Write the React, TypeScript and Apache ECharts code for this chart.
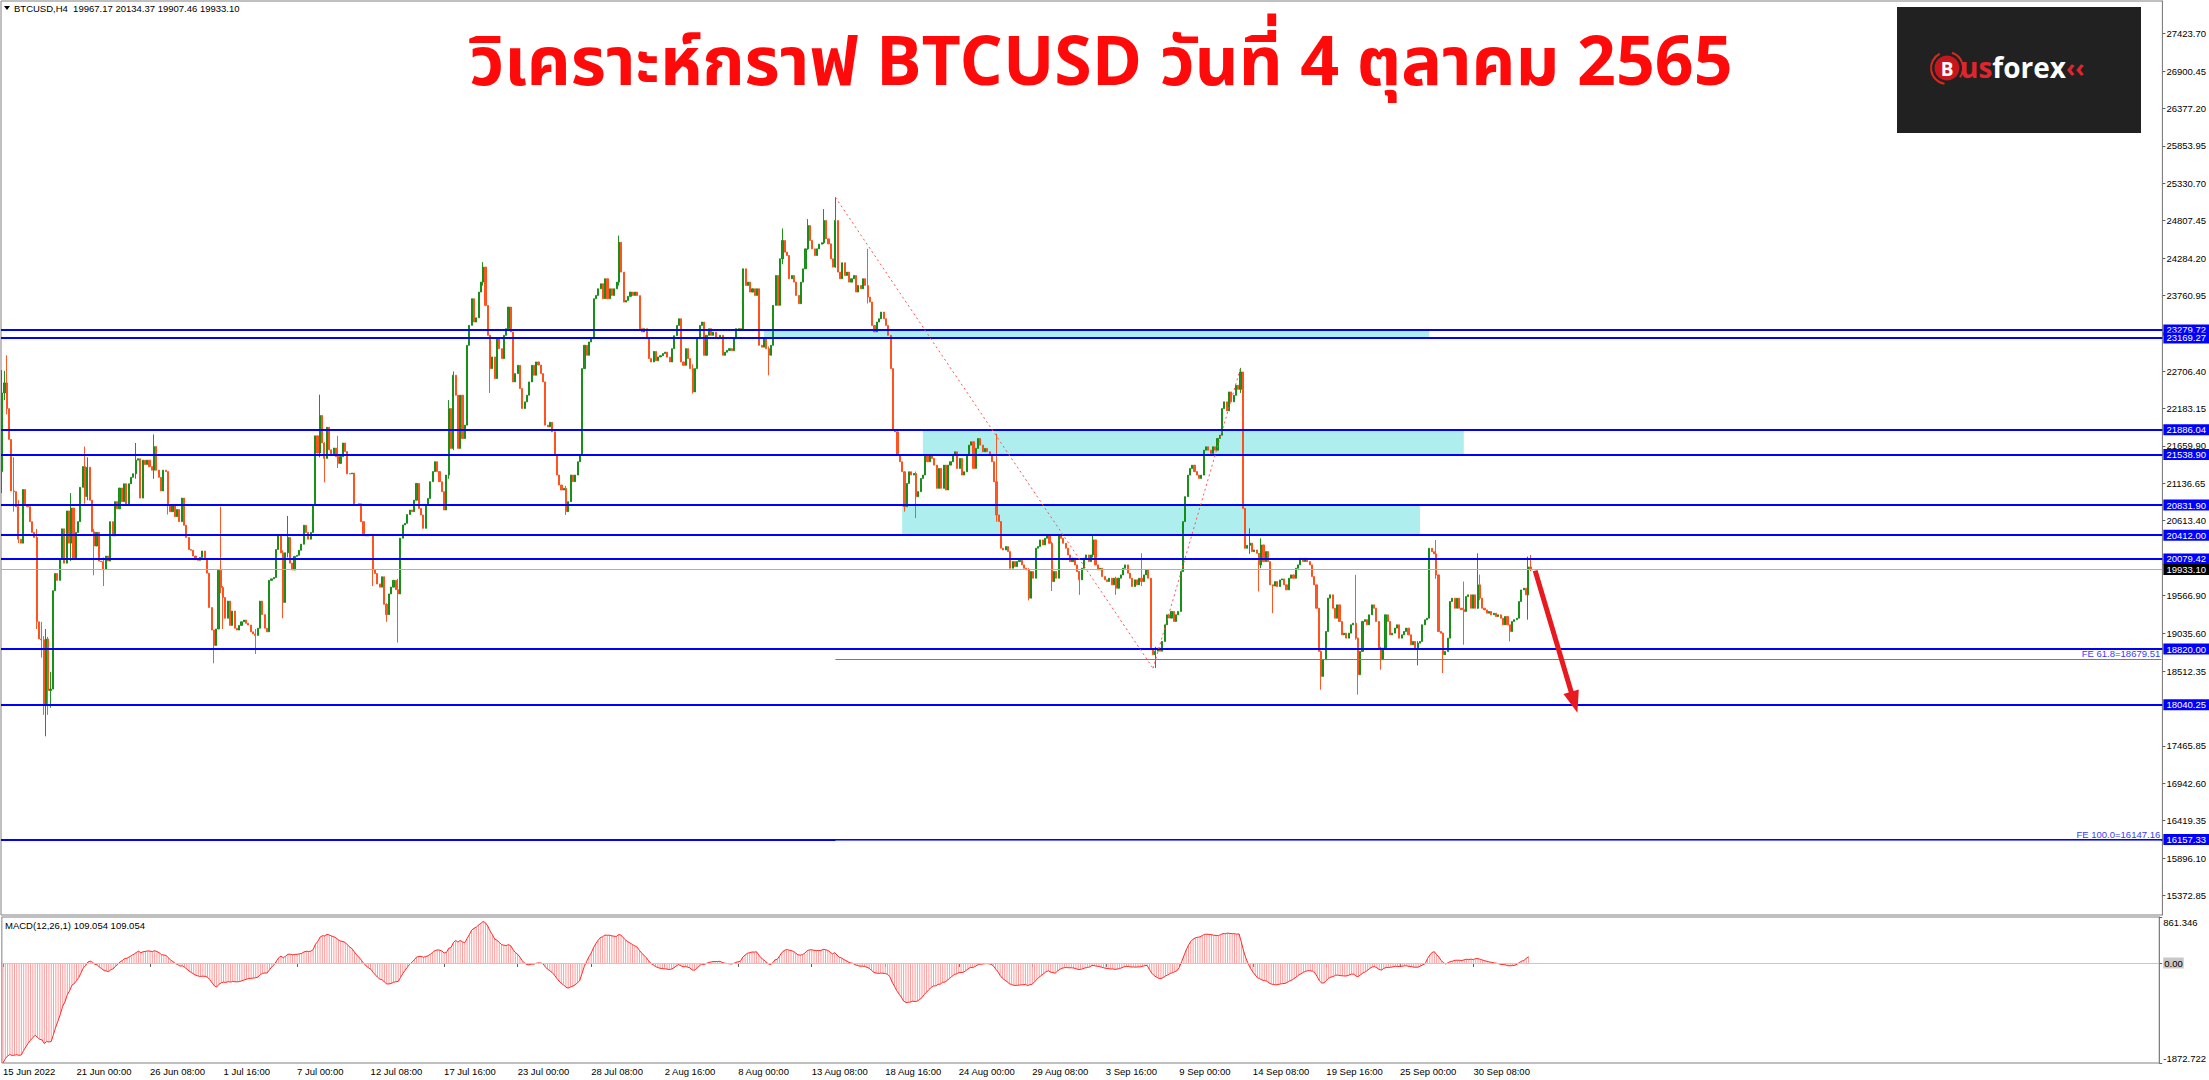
import React, { useEffect, useRef } from 'react';
import * as echarts from 'echarts';

// ---------- DATA ----------
// H4 closes, first bar = 15 Jun 2022 16:00
const closes: number[] = [
  22400, 22540, 22180, 21750, 21030, 21020, 20810, 20355, 20300, 21050,
  20840, 20810, 20600, 20450, 20380, 19200, 18960, 18950, 18030, 18960,
  18240, 18260, 19635, 19875, 19780, 20070, 20500, 20020, 20750, 20300,
  20790, 20070, 20450, 20600, 21080, 21370, 20950, 21360, 20900, 20460,
  20260, 20450, 20050, 20040, 19930, 20120, 20050, 20600, 20400, 20880,
  20780, 21070, 20880, 21130, 20840, 21130, 21220, 21270, 21460, 21480,
  20930, 21460, 21400, 21460, 21370, 21320, 21650, 21320, 21220, 21030,
  21320, 21300, 20840, 20740, 20840, 20670, 20770, 20600, 20930, 20550,
  20380, 20210, 20200, 20120, 20070, 20060, 20100, 20190, 20070, 19880,
  19400, 19085, 18870, 19100, 19920, 19680, 19540, 19250, 19490, 19150,
  19350, 19110, 19085, 19150, 19200, 19225, 19180, 19155, 19060, 19030,
  19010, 19110, 19490, 19300, 19110, 19060, 19780, 19800, 19820, 20210,
  20405, 20165, 19470, 20165, 20380, 20020, 19925, 20115, 20130, 20200,
  20285, 20550, 20450, 20355, 20450, 20840, 21800, 21560, 22085, 21700,
  21485, 21920, 21605, 21535, 21630, 21510, 21415, 21510, 21700, 21580,
  21270, 21270, 21280, 20840, 20840, 20850, 20600, 20405, 20400, 20410,
  20420, 19925, 19875, 19730, 19685, 19830, 19445, 19300, 19590, 19685,
  19780, 19650, 19590, 20370, 20554, 20577, 20700, 20762, 20740, 20900,
  21135, 20786, 20694, 20507, 20832, 20925, 21159, 21300, 21438, 21300,
  21159, 21020, 20763, 21252, 22182, 21624, 22647, 22368, 21624, 22368,
  21763, 21950, 23066, 23345, 23717, 23391, 23450, 23810, 23950, 24159,
  23624, 23205, 22740, 22903, 22600, 23158, 23019, 22880, 23205, 23298,
  23600, 23252, 22554, 22670, 22786, 22461, 22182, 22275, 22368, 22554,
  22786, 22647, 22833, 22790, 22670, 22554, 21950, 21926, 21990, 21856,
  21530, 21252, 21112, 21043, 21066, 20740, 20880, 21252, 21159, 21252,
  21438, 21530, 22740, 23066, 22926, 23112, 23158, 23717, 23763, 23856,
  23926, 23717, 23996, 23717, 23856, 23763, 23856, 23949, 24507, 24089,
  23670, 23693, 23750, 23810, 23763, 23810, 23760, 23298, 23252, 23298,
  23158, 22880, 22833, 22980, 22850, 22903, 22920, 22950, 22970, 22900,
  22833, 23019, 23200, 23344, 23437, 22833, 22786, 23019, 22880, 22740,
  22414, 22740, 23158, 23344, 23391, 22926, 23205, 23298, 23205, 23250,
  23158, 23160, 23205, 22926, 22970, 22995, 23019, 22990, 23158, 23298,
  23300, 23280, 24135, 23903, 23949, 23810, 23856, 23763, 23856, 23066,
  23040, 23158, 23019, 22926, 23066, 23624, 24042, 23624, 24275, 24531,
  24368, 24321, 23996, 24042, 23949, 23763, 23647, 23949, 24135, 24414,
  24740, 24531, 24414, 24321, 24414, 24480, 24500, 24810, 24554, 24484,
  24275, 24159, 24810, 24089, 23996, 24220, 24042, 24089, 23949, 23996,
  24042, 23810, 23903, 23856, 23996, 23903, 23740, 23670, 23344, 23252,
  23391, 23437, 23530, 23437, 23344, 23205, 22740, 21880, 21856, 21530,
  21438, 21298, 20810, 21135, 21298, 21252, 21275, 20949, 21020, 21205,
  21252, 21530, 21438, 21530, 21484, 21391, 21066, 21345, 21066, 21391,
  21043, 21391, 21438, 21530, 21577, 21345, 21484, 21252, 21298, 21530,
  21670, 21717, 21345, 21624, 21763, 21670, 21577, 21624, 21577, 21530,
  21438, 21159, 20694, 20601, 20229, 20205, 20252, 20182, 19949, 20042,
  19972, 20042, 20060, 19996, 19949, 19926, 19531, 19903, 19810, 20229,
  20252, 20345, 20275, 20368, 20415, 20298, 19763, 19903, 19810, 20415,
  20368, 20298, 20229, 20135, 20042, 20089, 19996, 19903, 19787, 19949,
  20089, 20135, 20042, 20135, 20345, 19996, 19926, 19949, 19833, 19787,
  19763, 19810, 19717, 19810, 19670, 19810, 19856, 19949, 19996, 19880,
  19810, 19694, 19787, 19717, 19810, 19763, 19856, 19926, 19810, 18810,
  18740, 18790, 18833, 18790, 18926, 19158, 19298, 19252, 19345, 19205,
  19298, 19345, 19903, 20601, 20950, 21251, 21344, 21390, 21300, 21251,
  21205, 21251, 21600, 21647, 21600, 21554, 21647, 21600, 21763, 21809,
  22181, 22275, 22150, 22414, 22275, 22367, 22507, 22450, 22693, 20786,
  20228, 20270, 20300, 20181, 20205, 20158, 19996, 20275, 20042, 20182,
  20042, 19717, 19700, 19763, 19693, 19786, 19800, 19717, 19647, 19809,
  19856, 19809, 19949, 19996, 20088, 20042, 20088, 20042, 19996, 19833,
  19717, 19390, 18786, 18437, 18670, 19065, 19531, 19577, 19390, 19251,
  19437, 19205, 19018, 19042, 18972, 19042, 19158, 19181, 18972, 18461,
  18786, 19205, 19230, 19158, 19298, 19437, 19390, 19205, 18833, 18670,
  18833, 19298, 19205, 19018, 19042, 19112, 19158, 18972, 19018, 19065,
  19112, 19018, 18879, 18926, 18833, 18902, 18926, 19158, 19228, 19251,
  20228, 20181, 20150, 19856, 19065, 19040, 18740, 18786, 18972, 19484,
  19530, 19390, 19530, 19390, 19370, 19344, 19553, 19577, 19390, 19577,
  19390, 19717, 19530, 19390, 19367, 19321, 19344, 19298, 19320, 19274,
  19298, 19251, 19158, 19274, 19158, 19065, 19205, 19230, 19251, 19483,
  19646, 19670, 19577, 19967.17, 19933.1,
];
const firstOpen = 21300;
// [bar index, high, low] for bars whose shadows are visible
const shadows: number[][] = [
  [0, 22720, 21000], [1, 22710, 22300], [2, 22926, 22100], [5, 21500, 20740], [7, 20900, 20300],
  [15, 20500, 19100], [17, 19200, 18700], [18, 19000, 17900], [19, 19100, 17600], [20, 18990, 17900],
  [21, 18500, 18000], [30, 21000, 20050], [36, 21650, 20850], [37, 21500, 20900], [40, 20500, 19850],
  [44, 20100, 19700], [58, 21700, 21200], [66, 21820, 21200], [72, 21000, 20700], [92, 19090, 18620],
  [95, 20810, 19600], [96, 19700, 19100], [110, 19100, 18750], [122, 20200, 19250], [124, 20680, 20100],
  [138, 22375, 21500], [140, 21710, 21150], [146, 21800, 21350], [161, 20430, 19700], [167, 19460, 19200],
  [172, 19800, 18910], [194, 22300, 21200], [196, 22700, 21600], [209, 24228, 23900], [212, 23210, 22400],
  [245, 21100, 20694], [268, 24600, 23900], [300, 22800, 22390], [333, 23050, 22646], [339, 24700, 24200],
  [350, 24830, 24400], [357, 24970, 24480], [362, 25135, 24150], [376, 24414, 23650], [392, 21300, 20740],
  [397, 21300, 20650], [432, 21830, 20600], [446, 19950, 19500], [456, 20320, 19630], [468, 19910, 19577],
  [474, 20415, 20100], [484, 19830, 19577], [495, 20158, 19700], [501, 18850, 18554], [538, 22750, 22400],
  [542, 20507, 20150], [546, 20160, 19624], [547, 20367, 19950], [552, 19720, 19321], [573, 18800, 18251],
  [588, 19856, 18950], [589, 18980, 18182], [599, 18850, 18530], [615, 18930, 18590], [623, 20344, 19800],
  [626, 19050, 18484], [635, 19763, 18880], [641, 20158, 19380], [642, 19860, 19500], [655, 19160, 18926],
  [663, 20112, 19230], [664, 20134.37, 19907.46],
];
const priceTicks = [
  27423.70, 26900.45, 26377.20, 25853.95, 25330.70, 24807.45, 24284.20, 23760.95,
  22706.40, 22183.15, 21659.90, 21136.65, 20613.40, 19566.90, 19035.60, 18512.35,
  17465.85, 16942.60, 16419.35, 15896.10, 15372.85,
];
const levels = [23279.72, 23169.27, 21886.04, 21538.90, 20831.90, 20412.00, 20079.42, 18820.00, 18040.25, 16157.33];
const lastPrice = 19933.10;
const fibTexts = ['FE 61.8=18679.51', 'FE 100.0=16147.16'];
const fibValues = [18679.51, 16147.16];
const fibStartBar = 362;
const zigzag = [[362, 25135], [500, 18550], [538, 22750]];
// [from bar, to bar, low, high]
const zones = [
  [331, 620, 23169.27, 23279.72],
  [400, 635, 21538.90, 21886.04],
  [391, 616, 20412.00, 20831.90],
];
const arrowPts = [[666, 19916], [683, 18075]];
const macdTicks = [861.346, 0, -1872.722];
const macdSeedFast = 23300;
const macdSeedSlow = 25172.72;

const MONTHS = ['Jan', 'Feb', 'Mar', 'Apr', 'May', 'Jun', 'Jul', 'Aug', 'Sep', 'Oct', 'Nov', 'Dec'];
const START_UTC = Date.UTC(2022, 5, 15, 16);
const TOTAL_SLOTS = 939;
const LABEL_EVERY = 32;
const LAST_LABEL = 640;

// ---------- derived ----------
const categories = Array.from({ length: TOTAL_SLOTS }, (_, i) => {
  const d = new Date(START_UTC + i * 4 * 3600 * 1000);
  const day = d.getUTCDate();
  const mon = MONTHS[d.getUTCMonth()];
  if (i === 0) return `${day} ${mon} ${d.getUTCFullYear()}`;
  return `${day} ${mon} ${String(d.getUTCHours()).padStart(2, '0')}:00`;
});

const shadowMap: Record<number, number[]> = {};
shadows.forEach((s) => { shadowMap[s[0]] = [s[1], s[2]]; });

const candles = closes.map((c, i) => {
  const o = i === 0 ? firstOpen : closes[i - 1];
  let h = Math.max(o, c);
  let l = Math.min(o, c);
  if (shadowMap[i]) { h = Math.max(h, shadowMap[i][0]); l = Math.min(l, shadowMap[i][1]); }
  return [o, c, l, h];
});

const macd: number[] = [];
{
  let e12 = macdSeedFast;
  let e26 = macdSeedSlow;
  closes.forEach((c, i) => {
    if (i > 0) { e12 += (c - e12) * 2 / 13; e26 += (c - e26) * 2 / 27; }
    macd.push(+(e12 - e26).toFixed(3));
  });
}

const AXIS_FONT = "'Liberation Sans', Tahoma, 'DejaVu Sans', sans-serif";
const GW = TOTAL_SLOTS * 2.302;
const showLabel = (i: number) => i % LABEL_EVERY === 0 && i <= LAST_LABEL;

function buildOption(): any {
  const levelLines = levels.map((v) => ({
    yAxis: v,
    lineStyle: { color: '#0000ff', width: 2, type: 'solid' },
    label: {
      show: true, position: 'end', distance: 1, formatter: v.toFixed(2),
      backgroundColor: '#0000ff', color: '#ffffff', padding: [1, 3, 0, 3],
      fontSize: 9.5, fontFamily: AXIS_FONT,
    },
  }));
  const lastLine = {
    yAxis: lastPrice,
    lineStyle: { color: '#a8b0b8', width: 1, type: 'solid' },
    label: {
      show: true, position: 'end', distance: 1, formatter: lastPrice.toFixed(2),
      backgroundColor: '#000000', color: '#ffffff', padding: [1, 3, 0, 3],
      fontSize: 9.5, fontFamily: AXIS_FONT,
    },
  };
  const fibLines = fibValues.map((v, k) => [
    {
      coord: [fibStartBar, v],
      lineStyle: { color: '#6a6aff', width: 1, type: 'solid' },
      label: {
        show: true, position: 'insideEndTop', formatter: fibTexts[k], color: '#3a3aff',
        fontSize: 9.5, fontFamily: AXIS_FONT, distance: 1,
      },
    },
    { coord: [TOTAL_SLOTS - 1, v] },
  ]);
  const zig = [];
  for (let k = 0; k < zigzag.length - 1; k++) {
    zig.push([
      { coord: zigzag[k], lineStyle: { color: '#ff5050', width: 1, type: [2, 3] }, label: { show: false } },
      { coord: zigzag[k + 1], label: { show: false } },
    ]);
  }
  const arrow = [
    { coord: arrowPts[0], symbol: 'none', lineStyle: { color: '#e8191f', width: 5, type: 'solid' }, label: { show: false } },
    { coord: arrowPts[1], symbol: 'triangle', symbolSize: [16, 22], label: { show: false } },
  ];

  return {
    animation: false,
    backgroundColor: '#ffffff',
    grid: [
      { left: 1, top: 1, width: GW, height: 914, show: true, borderColor: '#808080', borderWidth: 1 },
      { left: 1, top: 917, width: GW, height: 146, show: true, borderColor: '#808080', borderWidth: 1 },
    ],
    xAxis: [
      { type: 'category', gridIndex: 0, data: categories, boundaryGap: true, show: false },
      {
        type: 'category', gridIndex: 1, data: categories, boundaryGap: true,
        axisLine: { show: true, lineStyle: { color: '#808080' } },
        axisTick: { show: true, alignWithLabel: true, interval: (i: number) => showLabel(i), length: 4, lineStyle: { color: '#606060' } },
        axisLabel: {
          interval: (i: number) => showLabel(i), align: 'left', margin: 3,
          fontSize: 9.5, color: '#000000', fontFamily: AXIS_FONT,
        },
        splitLine: { show: false },
      },
    ],
    yAxis: [
      {
        type: 'value', gridIndex: 0, position: 'right', min: 15101.4, max: 27879.1,
        splitLine: { show: false },
        axisLine: { show: true, lineStyle: { color: '#808080' } },
        axisTick: { show: true, customValues: priceTicks, length: 3, lineStyle: { color: '#606060' } },
        axisLabel: {
          customValues: priceTicks, formatter: (v: number) => v.toFixed(2), margin: 4,
          fontSize: 9.5, color: '#000000', fontFamily: AXIS_FONT,
        },
      },
      {
        type: 'value', gridIndex: 1, position: 'right', min: -1872.722, max: 861.346,
        splitLine: { show: false },
        axisLine: { show: true, lineStyle: { color: '#808080' } },
        axisTick: { show: true, customValues: macdTicks, length: 3, lineStyle: { color: '#606060' } },
        axisLabel: {
          customValues: macdTicks, margin: 4,
          verticalAlignMaxLabel: 'bottom', verticalAlignMinLabel: 'top',
          formatter: (v: number) => (v === 0 ? '{z|0.00}' : String(v)),
          fontSize: 9.5, color: '#000000', fontFamily: AXIS_FONT,
          rich: { z: { backgroundColor: '#c8c8c8', fontSize: 9.5, fontFamily: AXIS_FONT, padding: [1, 1, 0, 1] } },
        },
      },
    ],
    series: [
      {
        type: 'candlestick', name: 'BTCUSD,H4', xAxisIndex: 0, yAxisIndex: 0, data: candles,
        barWidth: 1.6, large: false, z: 3,
        itemStyle: {
          color: '#0e8a0e', color0: '#ff4a14', borderColor: '#0e8a0e', borderColor0: '#ff4a14',
          borderWidth: 1, opacity: 0.92,
        },
        markArea: {
          silent: true, z: 1,
          itemStyle: { color: '#afeeee', opacity: 1 },
          label: { show: false },
          data: zones.map((z) => [{ xAxis: z[0], yAxis: z[3] }, { xAxis: z[1], yAxis: z[2] }]),
        },
        markLine: {
          silent: true, symbol: ['none', 'none'], animation: false, z: 4,
          label: { show: false },
          data: [...levelLines, lastLine, ...fibLines, ...zig],
        },
      },
      {
        type: 'line', name: 'arrow', xAxisIndex: 0, yAxisIndex: 0, data: [], z: 6,
        markLine: {
          silent: true, symbol: ['none', 'triangle'], animation: false, z: 6,
          itemStyle: { color: '#e8191f' },
          label: { show: false },
          data: [arrow],
        },
      },
      {
        type: 'bar', name: 'MACD', xAxisIndex: 1, yAxisIndex: 1, data: macd, barWidth: 1,
        itemStyle: { color: '#ff9c9c' },
        markLine: {
          silent: true, symbol: ['none', 'none'], animation: false,
          lineStyle: { color: '#c8c8c8', width: 1, type: 'solid' }, label: { show: false },
          data: [{ yAxis: 0 }],
        },
      },
      {
        type: 'line', name: 'Signal', xAxisIndex: 1, yAxisIndex: 1, data: macd, symbol: 'none',
        lineStyle: { color: '#ff2a2a', width: 1 },
      },
    ],
    graphic: [
      { type: 'polygon', shape: { points: [[4, 6], [10, 6], [7, 10]] }, style: { fill: '#000' } },
      {
        type: 'text', x: 14, y: 3,
        style: { text: 'BTCUSD,H4  19967.17 20134.37 19907.46 19933.10', fontSize: 9.5, fontFamily: AXIS_FONT, fill: '#000' },
      },
      {
        type: 'text', x: 5, y: 920,
        style: { text: 'MACD(12,26,1) 109.054 109.054', fontSize: 9.5, fontFamily: AXIS_FONT, fill: '#000' },
      },
      {
        type: 'text', x: 1101, y: 64, z: 20,
        style: {
          text: 'วิเคราะห์กราฟ BTCUSD วันที่ 4 ตุลาคม 2565', align: 'center', verticalAlign: 'middle',
          fontSize: 68, fontWeight: 'bold', fill: '#ff0a0a',
          fontFamily: "'Noto Sans Thai', 'Noto Sans Thai Looped', Loma, Garuda, 'Noto Sans', sans-serif",
        },
      },
      {
        type: 'group', z: 20,
        children: [
          { type: 'rect', shape: { x: 1897, y: 7, width: 244, height: 126 }, style: { fill: '#212121' } },
          { type: 'arc', shape: { cx: 1947, cy: 68, r: 16, startAngle: Math.PI * 0.55, endAngle: Math.PI * 1.35 }, style: { stroke: '#d42a1e', lineWidth: 2, fill: 'none' } },
          { type: 'arc', shape: { cx: 1947, cy: 68, r: 16, startAngle: Math.PI * 1.6, endAngle: Math.PI * 2.2 }, style: { stroke: '#d42a1e', lineWidth: 2, fill: 'none' } },
          { type: 'circle', shape: { cx: 1947, cy: 68, r: 12.5 }, style: { fill: '#c8161d' } },
          {
            type: 'text', x: 1947, y: 69,
            style: { text: 'B', align: 'center', verticalAlign: 'middle', fontSize: 19, fontWeight: 'bold', fill: '#ffffff', fontFamily: "'Open Sans', sans-serif" },
          },
          {
            type: 'text', x: 1960, y: 67,
            style: {
              text: '{u|us}{f|forex}{c|‹‹}', verticalAlign: 'middle',
              rich: {
                u: { fontSize: 28, fontWeight: 'bold', fill: '#e0262c', fontFamily: "'Open Sans', sans-serif" },
                f: { fontSize: 28, fontWeight: 'bold', fill: '#ffffff', fontFamily: "'Open Sans', sans-serif" },
                c: { fontSize: 25, fontWeight: 'bold', fill: '#e0262c', fontFamily: "'Open Sans', sans-serif" },
              },
            },
          },
        ],
      },
    ],
  };
}

export default function App() {
  const ref = useRef<HTMLDivElement>(null);
  useEffect(() => {
    document.body.style.margin = '0';
    if (!ref.current) return;
    const chart = echarts.init(ref.current, undefined, { renderer: 'svg' });
    chart.setOption(buildOption());
    return () => chart.dispose();
  }, []);
  return <div ref={ref} style={{ width: 2209, height: 1080, background: '#fff' }} />;
}
